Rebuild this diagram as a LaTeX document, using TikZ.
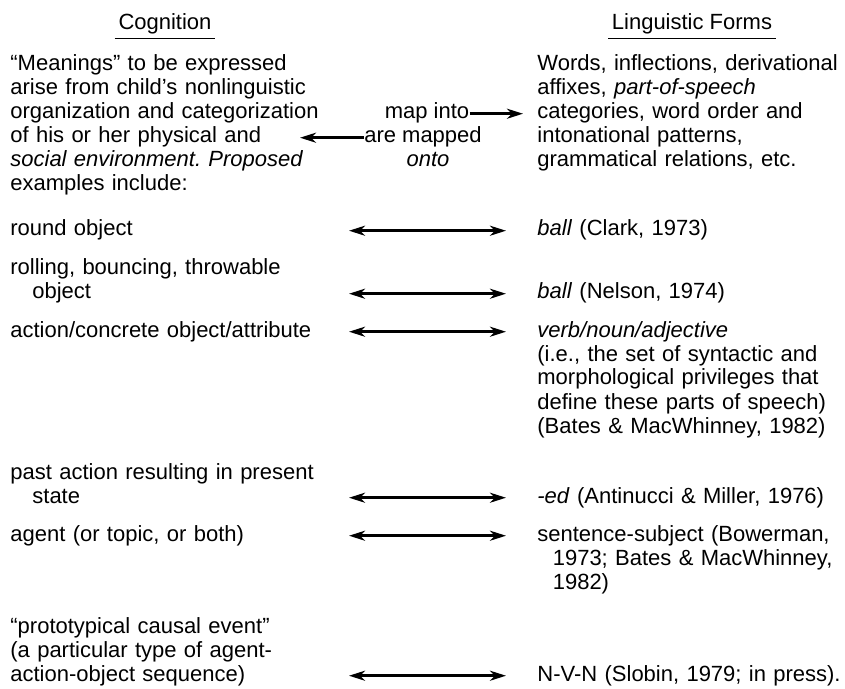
\documentclass[tikz,border=0pt]{standalone}
\usepackage{fontspec}
\setmainfont{Liberation Sans}
\usetikzlibrary{positioning,arrows.meta}
\frenchspacing

\begin{document}
\begin{tikzpicture}[x=0.5pt,y=-0.5pt,
  every node/.style={inner sep=0pt,font=\fontsize{11}{12}\selectfont},
  heading/.style={anchor=base,inner xsep=1.75pt,inner ysep=1.8pt},
  column/.style={anchor=base west,text width=170pt,align=left},
  midword/.style={anchor=base},
  rule/.style={line width=0.7pt},
  oneway/.style={-{Stealth[length=8pt,width=5pt,inset=2.5pt]},line width=1.4pt},
  twoway/.style={{Stealth[length=8pt,width=5pt,inset=2.5pt]}-{Stealth[length=8pt,width=5pt,inset=2.5pt]},line width=1.4pt}
]
\useasboundingbox (0,0) rectangle (845,689);

% headings
\node[heading] (cog) at (165,30) {Cognition};
\node[heading] (ling) at (692,30) {Linguistic Forms};
\draw[rule] (cog.south west) -- (cog.south east);
\draw[rule] (ling.south west) -- (ling.south east);

% opening statement
\node[column] (meanings) at (10,71) {``Meanings'' to be expressed\\
  arise from child's nonlinguistic\\
  organization and categorization\\
  of his or her physical and\\
  \textit{social environment. Proposed}\\
  examples include:};
\node[column] (forms) at (537,71) {Words, inflections, derivational\\
  affixes, \textit{part-of-speech}\\
  categories, word order and\\
  intonational patterns,\\
  grammatical relations, etc.};
\node[midword] (mapinto) at (427,119) {map into};
\node[midword] (aremapped) at (423,143) {are mapped};
\node[midword] (onto) at (428,167) {\textit{onto}};
\coordinate (intotip) at (523,0);
\coordinate (backtip) at (300,0);
\draw[oneway] (mapinto.mid east) -- (intotip |- mapinto.mid east);
\draw[oneway] (aremapped.mid west) -- (backtip |- aremapped.mid west);

% examples, left side
\node[column] (round) at (10,236) {round object};
\node[column] (rolling) at (10,275) {rolling, bouncing, throwable\\
  \hspace*{1em}object};
\node[column] (action) at (10,337) {action/concrete object/attribute};
\node[column] (past) at (10,479) {past action resulting in present\\
  \hspace*{1em}state};
\node[column] (agent) at (10,541) {agent (or topic, or both)};
\node[column] (causal) at (10,633) {``prototypical causal event''\\
  (a particular type of agent-\\
  action-object sequence)};

% examples, right side
\node[column] (ballc) at (537,236) {\textit{ball} (Clark, 1973)};
\node[column] (balln) at (537,299) {\textit{ball} (Nelson, 1974)};
\node[column] (verb) at (537,337) {\textit{verb/noun/adjective}\\
  (i.e., the set of syntactic and\\
  morphological privileges that\\
  define these parts of speech)\\
  (Bates \& MacWhinney, 1982)};
\node[column] (ed) at (537,503) {\textit{-ed} (Antinucci \& Miller, 1976)};
\node[column] (subject) at (537,541) {sentence-subject (Bowerman,\\
  \hspace*{0.7em}1973; Bates \& MacWhinney,\\
  \hspace*{0.7em}1982)};
\node[column] (nvn) at (537,681) {N-V-N (Slobin, 1979; in press).};

% double arrows
\coordinate (arrl) at (349,0);
\coordinate (arrr) at (506,0);
\draw[twoway] (arrl |- ballc.mid) -- (arrr |- ballc.mid);
\draw[twoway] (arrl |- balln.mid) -- (arrr |- balln.mid);
\draw[twoway] (arrl |- verb.mid) -- (arrr |- verb.mid);
\draw[twoway] (arrl |- ed.mid) -- (arrr |- ed.mid);
\draw[twoway] (arrl |- subject.mid) -- (arrr |- subject.mid);
\draw[twoway] (arrl |- nvn.mid) -- (arrr |- nvn.mid);
\end{tikzpicture}
\end{document}
